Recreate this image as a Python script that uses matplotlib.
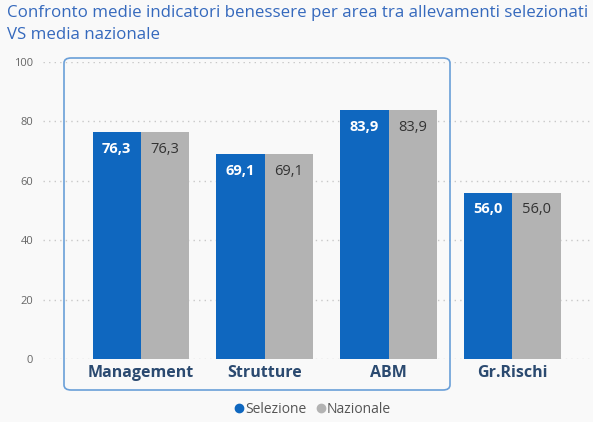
import matplotlib.pyplot as plt
import numpy as np
from matplotlib.patches import FancyBboxPatch
from matplotlib.lines import Line2D

categorie = ['Management', 'Strutture', 'ABM', 'Gr.Rischi']
selezione = [76.3, 69.1, 83.9, 56.0]
nazionale = [76.3, 69.1, 83.9, 56.0]
yticks = [0, 20, 40, 60, 80, 100]

blu = '#0f67bf'
grigio = '#b3b3b3'
sfondo = '#f9f9f9'

plt.rcParams['font.family'] = ['Open Sans', 'DejaVu Sans']

fig = plt.figure(figsize=(5.93, 4.22), dpi=100, facecolor=sfondo)
ax = fig.add_axes([43 / 593, 63 / 422, 550 / 593, 297 / 422])
ax.set_facecolor(sfondo)

x = np.arange(len(categorie))
w = 0.39
b1 = ax.bar(x - w / 2, selezione, w, color=blu, zorder=3)
b2 = ax.bar(x + w / 2, nazionale, w, color=grigio, zorder=3)

for r, v in zip(b1, selezione):
    ax.text(r.get_x() + r.get_width() / 2, v - 3.3, f'{v:.1f}'.replace('.', ','),
            ha='center', va='top', color='white', fontsize=10.5, fontweight='bold', zorder=4)
for r, v in zip(b2, nazionale):
    ax.text(r.get_x() + r.get_width() / 2, v - 3.3, f'{v:.1f}'.replace('.', ','),
            ha='center', va='top', color='#333333', fontsize=10.5, zorder=4)

ax.set_xlim(-0.79, 3.65)
ax.set_ylim(0, 100)
ax.set_yticks(yticks)
ax.set_yticklabels([str(t) for t in yticks], color='#666666', fontsize=8)
ax.yaxis.grid(True, linestyle=(0, (1, 3)), color='#c8c8c8', linewidth=1, zorder=0)
ax.set_xticks(x)
ax.set_xticklabels(categorie, fontsize=11.5, fontweight='bold', color='#2b4a70')
ax.tick_params(axis='both', length=0)
ax.tick_params(axis='x', pad=4)
ax.tick_params(axis='y', pad=7)
for s in ax.spines.values():
    s.set_visible(False)

# riquadro di selezione
box = FancyBboxPatch((64 / 593, (422 - 390) / 422), (450 - 64) / 593, (390 - 58) / 422,
                     boxstyle='round,pad=0,rounding_size=0.012', transform=fig.transFigure,
                     fill=False, edgecolor='#6a9fd8', linewidth=1.2, zorder=5)
fig.patches.append(box)

fig.text(0.012, 0.988, 'Confronto medie indicatori benessere per area tra allevamenti selezionati\nVS media nazionale',
         ha='left', va='top', color='#3569bd', fontsize=12.2, linespacing=1.5, fontweight='medium')

# legenda
handles = [Line2D([], [], marker='o', linestyle='', color=blu, markersize=6),
           Line2D([], [], marker='o', linestyle='', color=grigio, markersize=6)]
fig.legend(handles, ['Selezione', 'Nazionale'], loc='center', bbox_to_anchor=(0.527, 0.03),
           ncol=2, frameon=False, handletextpad=0.05, columnspacing=0.6, handlelength=0.8,
           prop={'size': 10}, labelcolor='#555555')

fig.savefig('out.png', dpi=100, facecolor=sfondo)
